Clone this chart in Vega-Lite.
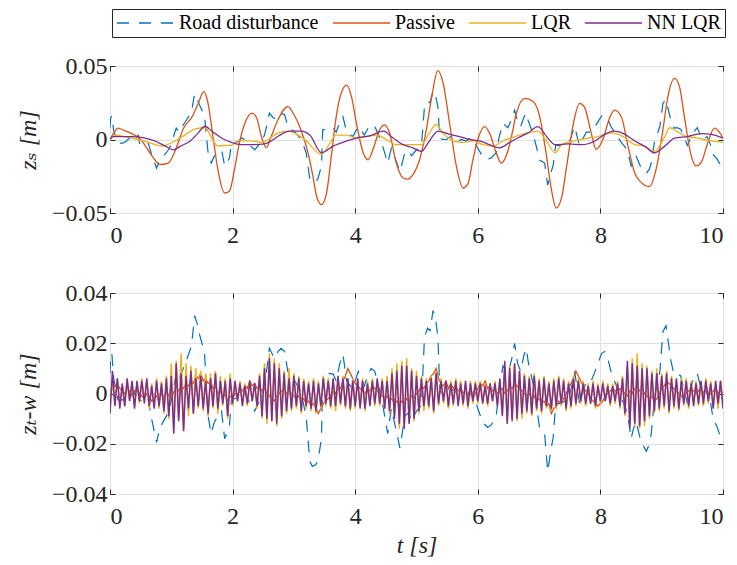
{
  "$schema": "https://vega.github.io/schema/vega-lite/v6.json",
  "background": "white",
  "padding": {"left": 15, "top": 8, "right": 5, "bottom": 5},
  "config": {
    "view": {"stroke": "#262626", "strokeWidth": 1},
    "font": "'Liberation Serif', 'DejaVu Serif', serif",
    "axis": {"domain": false, "tickSize": -5, "tickColor": "#262626", "tickWidth": 1, "grid": true, "gridColor": "#e0e0e0", "gridWidth": 1, "labelFontSize": 24, "labelColor": "#262626", "titleFontStyle": "italic", "titleFontWeight": "normal", "titleFontSize": 24, "titleColor": "#262626"}
  },
  "datasets": {
    "road": [
      {"t":0,"y":0.008},{"t":0.01,"y":0.0144},{"t":0.03,"y":0.016},{"t":0.06,"y":0.006},{"t":0.13,"y":-0.0025},{"t":0.21,"y":-0.0025},{"t":0.27,"y":-0.001},{"t":0.32,"y":0.001},{"t":0.38,"y":-0.001},{"t":0.46,"y":0.003},{"t":0.48,"y":-0.0025},{"t":0.57,"y":-0.0036},{"t":0.62,"y":-0.002},{"t":0.67,"y":-0.009},{"t":0.76,"y":-0.0195},{"t":0.81,"y":-0.014},{"t":0.86,"y":-0.0115},{"t":0.92,"y":-0.009},{"t":0.97,"y":-0.006},{"t":1.02,"y":0},{"t":1.08,"y":0.0077},{"t":1.12,"y":0.005},{"t":1.18,"y":0.009},{"t":1.25,"y":0.0134},{"t":1.33,"y":0.019},{"t":1.38,"y":0.031},{"t":1.42,"y":0.028},{"t":1.46,"y":0.0235},{"t":1.5,"y":0.02},{"t":1.54,"y":0.017},{"t":1.57,"y":0.004},{"t":1.6,"y":-0.009},{"t":1.65,"y":-0.016},{"t":1.7,"y":-0.0115},{"t":1.76,"y":-0.009},{"t":1.82,"y":-0.007},{"t":1.87,"y":-0.018},{"t":1.92,"y":-0.015},{"t":1.95,"y":-0.0125},{"t":1.98,"y":-0.0025},{"t":2.04,"y":-0.002},{"t":2.09,"y":-0.0015},{"t":2.15,"y":0.001},{"t":2.2,"y":0},{"t":2.25,"y":-0.002},{"t":2.3,"y":-0.0047},{"t":2.36,"y":-0.007},{"t":2.42,"y":-0.004},{"t":2.47,"y":-0.001},{"t":2.52,"y":0.003},{"t":2.56,"y":0.01},{"t":2.6,"y":0.018},{"t":2.66,"y":0.015},{"t":2.7,"y":0.014},{"t":2.74,"y":0.0167},{"t":2.79,"y":0.018},{"t":2.85,"y":0.0167},{"t":2.9,"y":0.0088},{"t":2.95,"y":0.007},{"t":3.0,"y":0.0057},{"t":3.06,"y":0.003},{"t":3.12,"y":0},{"t":3.2,"y":-0.009},{"t":3.26,"y":-0.027},{"t":3.3,"y":-0.029},{"t":3.35,"y":-0.0285},{"t":3.39,"y":-0.027},{"t":3.45,"y":-0.018},{"t":3.47,"y":0.0066},{"t":3.52,"y":0.007},{"t":3.56,"y":0.008},{"t":3.64,"y":0.0077},{"t":3.69,"y":0.005},{"t":3.75,"y":0.012},{"t":3.8,"y":0.0156},{"t":3.86,"y":0.005},{"t":3.92,"y":0.003},{"t":3.96,"y":0.002},{"t":4.05,"y":0.0088},{"t":4.1,"y":0.006},{"t":4.15,"y":0.003},{"t":4.2,"y":0.007},{"t":4.26,"y":0.01},{"t":4.32,"y":0.0088},{"t":4.4,"y":0.001},{"t":4.46,"y":-0.006},{"t":4.53,"y":-0.016},{"t":4.59,"y":-0.006},{"t":4.64,"y":-0.0115},{"t":4.73,"y":-0.0217},{"t":4.81,"y":-0.009},{"t":4.87,"y":-0.0077},{"t":4.92,"y":-0.011},{"t":5.0,"y":-0.007},{"t":5.08,"y":-0.0047},{"t":5.13,"y":0.0224},{"t":5.18,"y":0.026},{"t":5.22,"y":0.025},{"t":5.27,"y":0.033},{"t":5.31,"y":0.03},{"t":5.35,"y":0.022},{"t":5.38,"y":0.001},{"t":5.43,"y":0},{"t":5.49,"y":0},{"t":5.55,"y":0.002},{"t":5.63,"y":0.001},{"t":5.68,"y":-0.001},{"t":5.73,"y":0},{"t":5.81,"y":-0.001},{"t":5.87,"y":0.001},{"t":5.92,"y":0},{"t":6.0,"y":-0.006},{"t":6.08,"y":-0.0115},{"t":6.16,"y":-0.0135},{"t":6.22,"y":-0.0125},{"t":6.3,"y":-0.009},{"t":6.35,"y":0.002},{"t":6.41,"y":0.011},{"t":6.49,"y":0.008},{"t":6.55,"y":0.0134},{"t":6.6,"y":0.02},{"t":6.65,"y":0.012},{"t":6.7,"y":0.0088},{"t":6.75,"y":0.015},{"t":6.79,"y":0.018},{"t":6.82,"y":0.013},{"t":6.9,"y":0.004},{"t":6.95,"y":-0.004},{"t":7.01,"y":-0.014},{"t":7.09,"y":-0.016},{"t":7.14,"y":-0.031},{"t":7.2,"y":-0.0214},{"t":7.23,"y":-0.0176},{"t":7.27,"y":-0.004},{"t":7.35,"y":-0.004},{"t":7.42,"y":-0.003},{"t":7.49,"y":-0.002},{"t":7.54,"y":0.004},{"t":7.58,"y":0.0088},{"t":7.62,"y":0.002},{"t":7.66,"y":-0.004},{"t":7.72,"y":0.001},{"t":7.77,"y":0.005},{"t":7.85,"y":0.005},{"t":7.9,"y":0.008},{"t":7.96,"y":0.012},{"t":8.02,"y":0.016},{"t":8.07,"y":0.0167},{"t":8.12,"y":0.014},{"t":8.17,"y":0.009},{"t":8.23,"y":0.005},{"t":8.28,"y":0.002},{"t":8.34,"y":-0.002},{"t":8.4,"y":-0.005},{"t":8.45,"y":-0.009},{"t":8.5,"y":-0.018},{"t":8.54,"y":-0.014},{"t":8.58,"y":-0.011},{"t":8.66,"y":-0.019},{"t":8.75,"y":-0.023},{"t":8.8,"y":-0.02},{"t":8.83,"y":-0.016},{"t":8.88,"y":-0.002},{"t":8.93,"y":0.004},{"t":8.97,"y":0.0088},{"t":9.02,"y":0.0246},{"t":9.07,"y":0.027},{"t":9.11,"y":0.02},{"t":9.15,"y":0.013},{"t":9.2,"y":0.0077},{"t":9.25,"y":0.008},{"t":9.31,"y":0.007},{"t":9.36,"y":0.002},{"t":9.42,"y":-0.004},{"t":9.46,"y":0},{"t":9.5,"y":0.0047},{"t":9.54,"y":0.006},{"t":9.58,"y":0.008},{"t":9.62,"y":0.004},{"t":9.66,"y":0},{"t":9.7,"y":0.001},{"t":9.74,"y":0.002},{"t":9.8,"y":-0.004},{"t":9.84,"y":-0.0104},{"t":9.9,"y":-0.013},{"t":9.94,"y":-0.016},{"t":10,"y":-0.018}
    ],
    "pas": [
      {"t":0,"y":0},{"t":0.07,"y":0.005},{"t":0.13,"y":0.0077},{"t":0.24,"y":0.006},{"t":0.4,"y":0.003},{"t":0.5,"y":0},{"t":0.57,"y":-0.004},{"t":0.7,"y":-0.012},{"t":0.81,"y":-0.017},{"t":0.95,"y":-0.016},{"t":1.06,"y":-0.008},{"t":1.2,"y":0.0077},{"t":1.34,"y":0.0156},{"t":1.44,"y":0.0246},{"t":1.53,"y":0.0325},{"t":1.6,"y":0.0246},{"t":1.68,"y":0.002},{"t":1.76,"y":-0.0205},{"t":1.87,"y":-0.0364},{"t":1.95,"y":-0.035},{"t":2.03,"y":-0.0205},{"t":2.11,"y":-0.0025},{"t":2.2,"y":0.011},{"t":2.31,"y":0.018},{"t":2.39,"y":0.015},{"t":2.47,"y":0.002},{"t":2.55,"y":-0.0055},{"t":2.63,"y":0.002},{"t":2.74,"y":0.0134},{"t":2.9,"y":0.0224},{"t":3.0,"y":0.017},{"t":3.12,"y":0.006},{"t":3.23,"y":-0.009},{"t":3.31,"y":-0.025},{"t":3.37,"y":-0.0386},{"t":3.45,"y":-0.0443},{"t":3.53,"y":-0.037},{"t":3.61,"y":-0.0115},{"t":3.69,"y":0.0156},{"t":3.77,"y":0.0314},{"t":3.86,"y":0.037},{"t":3.94,"y":0.029},{"t":4.02,"y":0.011},{"t":4.13,"y":-0.009},{"t":4.21,"y":-0.0138},{"t":4.29,"y":-0.0067},{"t":4.4,"y":0.0067},{"t":4.48,"y":0.01},{"t":4.56,"y":0.0045},{"t":4.67,"y":-0.016},{"t":4.78,"y":-0.0262},{"t":4.86,"y":-0.027},{"t":4.94,"y":-0.024},{"t":5.05,"y":-0.0138},{"t":5.16,"y":0.0067},{"t":5.24,"y":0.027},{"t":5.35,"y":0.0468},{"t":5.43,"y":0.039},{"t":5.54,"y":0.011},{"t":5.65,"y":-0.018},{"t":5.76,"y":-0.033},{"t":5.84,"y":-0.03},{"t":5.92,"y":-0.0138},{"t":6.0,"y":0},{"t":6.11,"y":0.0088},{"t":6.19,"y":0.0045},{"t":6.3,"y":-0.009},{"t":6.38,"y":-0.016},{"t":6.49,"y":-0.008},{"t":6.57,"y":0.006},{"t":6.63,"y":0.018},{"t":6.77,"y":0.028},{"t":6.9,"y":0.026},{"t":7.01,"y":0.0156},{"t":7.12,"y":-0.011},{"t":7.2,"y":-0.034},{"t":7.28,"y":-0.0466},{"t":7.37,"y":-0.039},{"t":7.45,"y":-0.018},{"t":7.56,"y":0.011},{"t":7.66,"y":0.0246},{"t":7.74,"y":0.022},{"t":7.85,"y":0.0045},{"t":7.93,"y":-0.0067},{"t":8.04,"y":0},{"t":8.15,"y":0.0147},{"t":8.23,"y":0.02},{"t":8.34,"y":0.0156},{"t":8.45,"y":-0.0045},{"t":8.56,"y":-0.0228},{"t":8.66,"y":-0.029},{"t":8.8,"y":-0.032},{"t":8.91,"y":-0.02},{"t":9.02,"y":0.0067},{"t":9.1,"y":0.029},{"t":9.21,"y":0.0416},{"t":9.29,"y":0.036},{"t":9.37,"y":0.0156},{"t":9.48,"y":-0.011},{"t":9.56,"y":-0.018},{"t":9.64,"y":-0.016},{"t":9.75,"y":-0.0025},{"t":9.86,"y":0.0077},{"t":9.94,"y":0.005},{"t":10,"y":0.001}
    ],
    "lqr": [
      {"t":0,"y":0},{"t":0.08,"y":0.003},{"t":0.24,"y":0.002},{"t":0.46,"y":0},{"t":0.67,"y":-0.0025},{"t":0.84,"y":-0.0045},{"t":0.9,"y":-0.004},{"t":1.06,"y":-0.001},{"t":1.22,"y":0.003},{"t":1.38,"y":0.007},{"t":1.55,"y":0.008},{"t":1.66,"y":0.001},{"t":1.76,"y":-0.0045},{"t":1.87,"y":-0.004},{"t":1.98,"y":-0.004},{"t":2.09,"y":-0.001},{"t":2.31,"y":-0.001},{"t":2.47,"y":-0.002},{"t":2.58,"y":0},{"t":2.74,"y":0.0045},{"t":2.9,"y":0.0057},{"t":3.07,"y":0.003},{"t":3.23,"y":-0.002},{"t":3.3,"y":-0.0055},{"t":3.45,"y":-0.01},{"t":3.58,"y":-0.003},{"t":3.69,"y":0.003},{"t":3.86,"y":0.003},{"t":4.02,"y":0.001},{"t":4.18,"y":0.002},{"t":4.35,"y":0.003},{"t":4.51,"y":0},{"t":4.67,"y":-0.0035},{"t":4.89,"y":-0.0035},{"t":5.08,"y":-0.0035},{"t":5.21,"y":0.0045},{"t":5.32,"y":0.0102},{"t":5.43,"y":0.0045},{"t":5.6,"y":-0.001},{"t":5.76,"y":-0.002},{"t":5.92,"y":-0.001},{"t":6.08,"y":-0.0035},{"t":6.25,"y":-0.0045},{"t":6.41,"y":-0.001},{"t":6.57,"y":0.0015},{"t":6.82,"y":0.0045},{"t":6.98,"y":0.0057},{"t":7.12,"y":-0.001},{"t":7.26,"y":-0.009},{"t":7.37,"y":-0.0035},{"t":7.58,"y":-0.001},{"t":7.8,"y":0.001},{"t":7.96,"y":0.002},{"t":8.18,"y":0.0045},{"t":8.37,"y":0.002},{"t":8.56,"y":-0.0035},{"t":8.72,"y":-0.0045},{"t":8.88,"y":-0.008},{"t":9.05,"y":0.002},{"t":9.13,"y":0.008},{"t":9.24,"y":0.0057},{"t":9.4,"y":0.002},{"t":9.59,"y":0.001},{"t":9.81,"y":-0.001},{"t":10,"y":-0.002}
    ],
    "nn": [
      {"t":0,"y":0},{"t":0.05,"y":0.002},{"t":0.19,"y":0.002},{"t":0.35,"y":0.002},{"t":0.57,"y":0.001},{"t":0.73,"y":-0.001},{"t":0.9,"y":-0.0045},{"t":1.04,"y":-0.007},{"t":1.15,"y":-0.0045},{"t":1.31,"y":-0.001},{"t":1.44,"y":0.0045},{"t":1.55,"y":0.009},{"t":1.66,"y":0.0057},{"t":1.82,"y":0.001},{"t":1.98,"y":-0.002},{"t":2.14,"y":-0.0035},{"t":2.36,"y":-0.0035},{"t":2.52,"y":-0.003},{"t":2.63,"y":-0.001},{"t":2.77,"y":0.003},{"t":2.93,"y":0.0057},{"t":3.12,"y":0.0057},{"t":3.26,"y":0.003},{"t":3.45,"y":-0.009},{"t":3.64,"y":-0.0045},{"t":3.86,"y":-0.001},{"t":4.02,"y":0.001},{"t":4.24,"y":0.0025},{"t":4.46,"y":0.0057},{"t":4.62,"y":0.001},{"t":4.78,"y":-0.0035},{"t":4.94,"y":-0.0057},{"t":5.08,"y":-0.008},{"t":5.21,"y":-0.001},{"t":5.35,"y":0.0057},{"t":5.54,"y":0.0035},{"t":5.7,"y":0.002},{"t":5.87,"y":0},{"t":6.03,"y":-0.001},{"t":6.19,"y":-0.0035},{"t":6.35,"y":-0.0057},{"t":6.52,"y":-0.002},{"t":6.65,"y":0.001},{"t":6.82,"y":0.0045},{"t":6.98,"y":0.0088},{"t":7.14,"y":0.001},{"t":7.26,"y":-0.0035},{"t":7.48,"y":-0.003},{"t":7.7,"y":-0.0035},{"t":7.91,"y":-0.001},{"t":8.07,"y":0.0035},{"t":8.23,"y":0.0057},{"t":8.4,"y":0.0035},{"t":8.56,"y":-0.001},{"t":8.72,"y":-0.0045},{"t":8.88,"y":-0.009},{"t":9.05,"y":-0.0045},{"t":9.21,"y":0.001},{"t":9.42,"y":0.002},{"t":9.64,"y":0.004},{"t":9.81,"y":0.0035},{"t":10,"y":0.001}
    ],
    "bot": [
      {"t":0,"p":0,"l":-0.003,"n":-0.008},{"t":0.04,"p":0.002,"l":0.005,"n":0.009},{"t":0.08,"p":0.003,"l":-0.004,"n":-0.005},{"t":0.12,"p":0.004,"l":0.006,"n":0.006},{"t":0.16,"p":0.002,"l":-0.004,"n":-0.006},{"t":0.2,"p":0.001,"l":0.003,"n":0.004},{"t":0.24,"p":0,"l":-0.005,"n":-0.005},{"t":0.28,"p":0.002,"l":0.005,"n":0.006},{"t":0.32,"p":0.001,"l":-0.003,"n":-0.003},{"t":0.36,"p":-0.001,"l":0.004,"n":0.005},
      {"t":0.4,"p":0.001,"l":-0.005,"n":-0.006},{"t":0.44,"p":0.002,"l":0.004,"n":0.005},{"t":0.48,"p":0,"l":-0.004,"n":-0.003},{"t":0.52,"p":-0.001,"l":0.006,"n":0.005},{"t":0.56,"p":-0.002,"l":-0.003,"n":-0.004},{"t":0.6,"p":0,"l":0.005,"n":0.006},{"t":0.64,"p":-0.001,"l":-0.006,"n":-0.005},{"t":0.68,"p":-0.003,"l":0.004,"n":0.003},{"t":0.72,"p":-0.002,"l":-0.005,"n":-0.006},{"t":0.76,"p":-0.001,"l":0.006,"n":0.005},
      {"t":0.8,"p":-0.003,"l":-0.006,"n":-0.005},{"t":0.84,"p":0,"l":0.005,"n":0.004},{"t":0.88,"p":-0.002,"l":-0.008,"n":-0.007},{"t":0.92,"p":0.001,"l":0.007,"n":0.006},{"t":0.96,"p":-0.001,"l":-0.01,"n":-0.009},{"t":1.0,"p":0.002,"l":0.012,"n":0.007},{"t":1.04,"p":0,"l":-0.014,"n":-0.016},{"t":1.08,"p":0.003,"l":0.013,"n":0.012},{"t":1.12,"p":0.001,"l":-0.01,"n":-0.011},{"t":1.16,"p":0.003,"l":0.016,"n":0.008},
      {"t":1.2,"p":0.002,"l":-0.015,"n":-0.015},{"t":1.24,"p":0.004,"l":0.012,"n":0.007},{"t":1.28,"p":0.003,"l":-0.009,"n":-0.006},{"t":1.32,"p":0.005,"l":0.011,"n":0.009},{"t":1.36,"p":0.004,"l":-0.008,"n":-0.008},{"t":1.4,"p":0.007,"l":0.01,"n":0.006},{"t":1.44,"p":0.006,"l":-0.006,"n":-0.005},{"t":1.48,"p":0.008,"l":0.009,"n":0.007},{"t":1.52,"p":0.005,"l":-0.007,"n":-0.006},{"t":1.56,"p":0.006,"l":0.008,"n":0.005},
      {"t":1.6,"p":0.004,"l":-0.009,"n":-0.008},{"t":1.64,"p":0.005,"l":0.008,"n":0.006},{"t":1.68,"p":0.002,"l":-0.006,"n":-0.005},{"t":1.72,"p":0.003,"l":0.009,"n":0.008},{"t":1.76,"p":0,"l":-0.008,"n":-0.006},{"t":1.8,"p":0.001,"l":0.007,"n":0.005},{"t":1.84,"p":-0.002,"l":-0.005,"n":-0.004},{"t":1.88,"p":0,"l":0.006,"n":0.005},{"t":1.92,"p":-0.003,"l":-0.01,"n":-0.009},{"t":1.96,"p":-0.001,"l":0.008,"n":0.006},
      {"t":2.0,"p":-0.002,"l":-0.005,"n":-0.004},{"t":2.04,"p":0,"l":0.004,"n":0.005},{"t":2.08,"p":-0.001,"l":-0.003,"n":-0.003},{"t":2.12,"p":0.002,"l":0.005,"n":0.004},{"t":2.16,"p":0.001,"l":-0.004,"n":-0.005},{"t":2.2,"p":0.003,"l":0.004,"n":0.003},{"t":2.24,"p":0.002,"l":-0.005,"n":-0.004},{"t":2.28,"p":0.005,"l":0.005,"n":0.005},{"t":2.32,"p":0.003,"l":-0.003,"n":-0.003},{"t":2.36,"p":0.004,"l":0.004,"n":0.004},
      {"t":2.4,"p":0.002,"l":-0.006,"n":-0.005},{"t":2.44,"p":0.003,"l":0.008,"n":0.007},{"t":2.48,"p":0.001,"l":-0.01,"n":-0.009},{"t":2.52,"p":0.002,"l":0.012,"n":0.01},{"t":2.56,"p":0,"l":-0.012,"n":-0.01},{"t":2.6,"p":-0.001,"l":0.016,"n":0.014},{"t":2.64,"p":-0.002,"l":-0.011,"n":-0.011},{"t":2.68,"p":-0.003,"l":0.014,"n":0.012},{"t":2.72,"p":-0.001,"l":-0.013,"n":-0.012},{"t":2.76,"p":0,"l":0.012,"n":0.01},
      {"t":2.8,"p":0.001,"l":-0.01,"n":-0.009},{"t":2.84,"p":0.002,"l":0.009,"n":0.008},{"t":2.88,"p":0,"l":-0.008,"n":-0.007},{"t":2.92,"p":0.001,"l":0.01,"n":0.006},{"t":2.96,"p":0,"l":-0.007,"n":-0.006},{"t":3.0,"p":-0.001,"l":0.008,"n":0.007},{"t":3.04,"p":-0.002,"l":-0.006,"n":-0.005},{"t":3.08,"p":-0.001,"l":0.007,"n":0.006},{"t":3.12,"p":-0.003,"l":-0.008,"n":-0.007},{"t":3.16,"p":-0.002,"l":0.006,"n":0.005},
      {"t":3.2,"p":-0.004,"l":-0.006,"n":-0.005},{"t":3.24,"p":-0.003,"l":0.005,"n":0.004},{"t":3.28,"p":-0.005,"l":-0.007,"n":-0.006},{"t":3.32,"p":-0.004,"l":0.006,"n":0.005},{"t":3.36,"p":-0.006,"l":-0.008,"n":-0.007},{"t":3.4,"p":-0.008,"l":0.005,"n":0.004},{"t":3.44,"p":-0.006,"l":-0.006,"n":-0.005},{"t":3.48,"p":-0.004,"l":0.007,"n":0.006},{"t":3.52,"p":-0.003,"l":-0.005,"n":-0.004},{"t":3.56,"p":-0.002,"l":0.006,"n":0.005},
      {"t":3.6,"p":-0.001,"l":-0.006,"n":-0.005},{"t":3.64,"p":0.001,"l":0.005,"n":0.006},{"t":3.68,"p":0,"l":-0.007,"n":-0.005},{"t":3.72,"p":0.003,"l":0.006,"n":0.007},{"t":3.76,"p":0.002,"l":-0.005,"n":-0.004},{"t":3.8,"p":0.005,"l":0.007,"n":0.006},{"t":3.84,"p":0.007,"l":-0.006,"n":-0.005},{"t":3.88,"p":0.01,"l":0.005,"n":0.006},{"t":3.92,"p":0.008,"l":-0.007,"n":-0.006},{"t":3.96,"p":0.006,"l":0.006,"n":0.005},
      {"t":4.0,"p":0.004,"l":-0.006,"n":-0.005},{"t":4.04,"p":0.003,"l":0.005,"n":0.006},{"t":4.08,"p":0.002,"l":-0.005,"n":-0.006},{"t":4.12,"p":0.001,"l":0.006,"n":0.005},{"t":4.16,"p":0,"l":-0.007,"n":-0.006},{"t":4.2,"p":0.002,"l":0.005,"n":0.004},{"t":4.24,"p":0.001,"l":-0.004,"n":-0.005},{"t":4.28,"p":0.003,"l":0.006,"n":0.005},{"t":4.32,"p":0.002,"l":-0.005,"n":-0.004},{"t":4.36,"p":0.001,"l":0.005,"n":0.006},
      {"t":4.4,"p":0,"l":-0.005,"n":-0.004},{"t":4.44,"p":-0.001,"l":0.006,"n":0.005},{"t":4.48,"p":-0.002,"l":-0.006,"n":-0.006},{"t":4.52,"p":-0.001,"l":0.007,"n":0.005},{"t":4.56,"p":-0.003,"l":-0.008,"n":-0.007},{"t":4.6,"p":-0.002,"l":0.01,"n":0.008},{"t":4.64,"p":-0.004,"l":-0.009,"n":-0.01},{"t":4.68,"p":-0.003,"l":0.012,"n":0.009},{"t":4.72,"p":-0.005,"l":-0.014,"n":-0.012},{"t":4.76,"p":-0.003,"l":0.013,"n":0.011},
      {"t":4.8,"p":-0.004,"l":-0.013,"n":-0.014},{"t":4.84,"p":-0.002,"l":0.014,"n":0.011},{"t":4.88,"p":-0.003,"l":-0.012,"n":-0.012},{"t":4.92,"p":-0.001,"l":0.01,"n":0.009},{"t":4.96,"p":-0.002,"l":-0.011,"n":-0.01},{"t":5.0,"p":0,"l":0.009,"n":0.007},{"t":5.04,"p":0.001,"l":-0.008,"n":-0.007},{"t":5.08,"p":0.003,"l":0.007,"n":0.006},{"t":5.12,"p":0.002,"l":-0.007,"n":-0.005},{"t":5.16,"p":0.004,"l":0.006,"n":0.005},
      {"t":5.2,"p":0.005,"l":-0.006,"n":-0.005},{"t":5.24,"p":0.007,"l":0.007,"n":0.006},{"t":5.28,"p":0.008,"l":-0.008,"n":-0.007},{"t":5.32,"p":0.01,"l":0.009,"n":0.008},{"t":5.36,"p":0.006,"l":-0.005,"n":-0.004},{"t":5.4,"p":0.004,"l":0.006,"n":0.005},{"t":5.44,"p":0.003,"l":-0.004,"n":-0.003},{"t":5.48,"p":0.005,"l":0.005,"n":0.005},{"t":5.52,"p":0.002,"l":-0.006,"n":-0.005},{"t":5.56,"p":0.004,"l":0.005,"n":0.004},
      {"t":5.6,"p":0.002,"l":-0.005,"n":-0.004},{"t":5.64,"p":0.003,"l":0.006,"n":0.005},{"t":5.68,"p":0.001,"l":-0.004,"n":-0.005},{"t":5.72,"p":0.002,"l":0.005,"n":0.004},{"t":5.76,"p":0,"l":-0.005,"n":-0.004},{"t":5.8,"p":0.001,"l":0.004,"n":0.005},{"t":5.84,"p":-0.001,"l":-0.006,"n":-0.005},{"t":5.88,"p":0,"l":0.005,"n":0.004},{"t":5.92,"p":-0.002,"l":-0.004,"n":-0.003},{"t":5.96,"p":0,"l":0.005,"n":0.004},
      {"t":6.0,"p":0.002,"l":-0.004,"n":-0.003},{"t":6.04,"p":0.004,"l":0.005,"n":0.004},{"t":6.08,"p":0.003,"l":-0.003,"n":-0.004},{"t":6.12,"p":0.005,"l":0.004,"n":0.003},{"t":6.16,"p":0.002,"l":-0.005,"n":-0.004},{"t":6.2,"p":0.003,"l":0.004,"n":0.004},{"t":6.24,"p":0.001,"l":-0.003,"n":-0.003},{"t":6.28,"p":0.002,"l":0.005,"n":0.004},{"t":6.32,"p":0,"l":-0.004,"n":-0.005},{"t":6.36,"p":0.001,"l":0.005,"n":0.006},
      {"t":6.4,"p":0.002,"l":-0.008,"n":-0.009},{"t":6.44,"p":0,"l":0.01,"n":0.013},{"t":6.48,"p":0.001,"l":-0.012,"n":-0.012},{"t":6.52,"p":0.003,"l":0.011,"n":0.01},{"t":6.56,"p":0.002,"l":-0.01,"n":-0.011},{"t":6.6,"p":0.004,"l":0.012,"n":0.012},{"t":6.64,"p":0.003,"l":-0.011,"n":-0.01},{"t":6.68,"p":0.002,"l":0.009,"n":0.009},{"t":6.72,"p":0.001,"l":-0.01,"n":-0.008},{"t":6.76,"p":0,"l":0.008,"n":0.007},
      {"t":6.8,"p":-0.001,"l":-0.008,"n":-0.007},{"t":6.84,"p":0,"l":0.007,"n":0.006},{"t":6.88,"p":-0.002,"l":-0.009,"n":-0.008},{"t":6.92,"p":-0.001,"l":0.008,"n":0.007},{"t":6.96,"p":-0.003,"l":-0.007,"n":-0.006},{"t":7.0,"p":-0.002,"l":0.006,"n":0.005},{"t":7.04,"p":-0.004,"l":-0.008,"n":-0.007},{"t":7.08,"p":-0.003,"l":0.007,"n":0.006},{"t":7.12,"p":-0.005,"l":-0.006,"n":-0.005},{"t":7.16,"p":-0.004,"l":0.005,"n":0.004},
      {"t":7.2,"p":-0.008,"l":-0.007,"n":-0.006},{"t":7.24,"p":-0.006,"l":0.006,"n":0.005},{"t":7.28,"p":-0.005,"l":-0.006,"n":-0.005},{"t":7.32,"p":-0.003,"l":0.007,"n":0.006},{"t":7.36,"p":-0.004,"l":-0.005,"n":-0.004},{"t":7.4,"p":-0.002,"l":0.006,"n":0.005},{"t":7.44,"p":0,"l":-0.007,"n":-0.006},{"t":7.48,"p":0.002,"l":0.005,"n":0.004},{"t":7.52,"p":0.004,"l":-0.006,"n":-0.005},{"t":7.56,"p":0.006,"l":0.007,"n":0.006},
      {"t":7.6,"p":0.009,"l":-0.005,"n":-0.004},{"t":7.64,"p":0.007,"l":0.006,"n":0.005},{"t":7.68,"p":0.005,"l":-0.004,"n":-0.003},{"t":7.72,"p":0.003,"l":0.005,"n":0.004},{"t":7.76,"p":0.001,"l":-0.005,"n":-0.004},{"t":7.8,"p":0,"l":0.004,"n":0.003},{"t":7.84,"p":-0.002,"l":-0.004,"n":-0.004},{"t":7.88,"p":-0.003,"l":0.005,"n":0.004},{"t":7.92,"p":-0.004,"l":-0.006,"n":-0.005},{"t":7.96,"p":-0.005,"l":0.004,"n":0.003},
      {"t":8.0,"p":-0.004,"l":-0.004,"n":-0.003},{"t":8.04,"p":-0.003,"l":0.005,"n":0.004},{"t":8.08,"p":-0.001,"l":-0.003,"n":-0.003},{"t":8.12,"p":0,"l":0.004,"n":0.003},{"t":8.16,"p":0.001,"l":-0.005,"n":-0.004},{"t":8.2,"p":0.002,"l":0.004,"n":0.003},{"t":8.24,"p":0.001,"l":-0.004,"n":-0.003},{"t":8.28,"p":0,"l":0.005,"n":0.004},{"t":8.32,"p":0.002,"l":-0.006,"n":-0.005},{"t":8.36,"p":0.001,"l":0.007,"n":0.006},
      {"t":8.4,"p":0,"l":-0.009,"n":-0.008},{"t":8.44,"p":-0.001,"l":0.01,"n":0.013},{"t":8.48,"p":0.001,"l":-0.012,"n":-0.014},{"t":8.52,"p":0,"l":0.014,"n":0.012},{"t":8.56,"p":0.002,"l":-0.013,"n":-0.012},{"t":8.6,"p":0.003,"l":0.016,"n":0.011},{"t":8.64,"p":0.001,"l":-0.014,"n":-0.013},{"t":8.68,"p":0.002,"l":0.012,"n":0.01},{"t":8.72,"p":0,"l":-0.013,"n":-0.011},{"t":8.76,"p":-0.001,"l":0.011,"n":0.01},
      {"t":8.8,"p":-0.002,"l":-0.01,"n":-0.009},{"t":8.84,"p":-0.001,"l":0.009,"n":0.008},{"t":8.88,"p":-0.003,"l":-0.008,"n":-0.007},{"t":8.92,"p":-0.002,"l":0.01,"n":0.008},{"t":8.96,"p":0,"l":-0.007,"n":-0.006},{"t":9.0,"p":0.002,"l":0.008,"n":0.007},{"t":9.04,"p":0.003,"l":-0.006,"n":-0.005},{"t":9.08,"p":0.005,"l":0.009,"n":0.008},{"t":9.12,"p":0.004,"l":-0.008,"n":-0.007},{"t":9.16,"p":0.003,"l":0.007,"n":0.006},
      {"t":9.2,"p":0.002,"l":-0.006,"n":-0.005},{"t":9.24,"p":0.001,"l":0.005,"n":0.006},{"t":9.28,"p":0,"l":-0.007,"n":-0.006},{"t":9.32,"p":-0.001,"l":0.006,"n":0.005},{"t":9.36,"p":-0.002,"l":-0.005,"n":-0.004},{"t":9.4,"p":0,"l":0.006,"n":0.005},{"t":9.44,"p":0.001,"l":-0.006,"n":-0.005},{"t":9.48,"p":0.002,"l":0.005,"n":0.004},{"t":9.52,"p":0.001,"l":-0.004,"n":-0.005},{"t":9.56,"p":0,"l":0.005,"n":0.004},
      {"t":9.6,"p":0.001,"l":-0.005,"n":-0.004},{"t":9.64,"p":0.002,"l":0.004,"n":0.005},{"t":9.68,"p":0,"l":-0.005,"n":-0.004},{"t":9.72,"p":0.001,"l":0.006,"n":0.005},{"t":9.76,"p":-0.001,"l":-0.004,"n":-0.003},{"t":9.8,"p":0,"l":0.005,"n":0.004},{"t":9.84,"p":0.001,"l":-0.005,"n":-0.006},{"t":9.88,"p":0.002,"l":0.004,"n":0.005},{"t":9.92,"p":0,"l":-0.006,"n":-0.004},{"t":9.96,"p":0.001,"l":0.005,"n":0.005},
      {"t":10,"p":0,"l":-0.004,"n":-0.006}
    ]
  },
  "vconcat": [
    {
      "width": 613,
      "height": 147,
      "layer": [
        {
          "data": {"name": "road"},
          "mark": {"type": "line", "strokeWidth": 1.2, "strokeDash": [12, 9], "clip": true},
          "encoding": {
            "x": {"field": "t", "type": "quantitative", "scale": {"domain": [0, 10], "nice": false}, "axis": {"values": [0, 2, 4, 6, 8, 10], "labelPadding": 15, "labelFont": "'Liberation Serif', 'DejaVu Serif', serif", "labelFontSize": 24, "labelColor": "#262626", "title": null}},
            "y": {"field": "y", "type": "quantitative", "scale": {"domain": [-0.05, 0.05], "nice": false}, "axis": {"values": [-0.05, 0, 0.05], "labelExpr": "replace('' + datum.value, '-', '−')", "labelPadding": 8, "labelFont": "'Liberation Serif', 'DejaVu Serif', serif", "labelFontSize": 24, "labelColor": "#262626", "title": "zₛ [m]", "titleFont": "'Liberation Serif', 'DejaVu Serif', serif", "titleFontSize": 24, "titleX": -82, "titleY": 73.5, "titleAlign": "center", "titleBaseline": "middle", "titleAngle": 270}},
            "color": {
              "datum": "Road disturbance", "type": "nominal",
              "scale": {"domain": ["Road disturbance", "Passive", "LQR", "NN LQR"], "range": ["#0072BD", "#D95319", "#EDB120", "#7E2F8E"]},
              "legend": {
                "orient": "none", "legendX": 2, "legendY": -57, "direction": "horizontal", "title": null,
                "symbolType": "stroke", "symbolSize": 3249, "symbolStrokeWidth": 1.3, "clipHeight": 20,
                "labelFont": "'Liberation Serif', 'DejaVu Serif', serif", "labelFontSize": 20, "labelColor": "black", "labelLimit": 400, "labelOffset": 4,
                "columnPadding": 13, "padding": 4, "strokeColor": "#262626", "fillColor": "white",
                "encode": {"symbols": {"update": {"strokeDash": {"signal": "datum.value === 'Road disturbance' ? [12, 10] : null"}}}}
              }
            }
          }
        },
        {
          "data": {"name": "pas"},
          "mark": {"type": "line", "strokeWidth": 1.3, "interpolate": "monotone", "clip": true},
          "encoding": {
            "x": {"field": "t", "type": "quantitative", "axis": {"orient": "top", "values": [0, 2, 4, 6, 8, 10], "labels": false, "grid": false, "title": null}},
            "y": {"field": "y", "type": "quantitative", "axis": {"orient": "right", "values": [-0.05, 0, 0.05], "labels": false, "grid": false, "title": null}},
            "color": {"datum": "Passive", "type": "nominal"}
          }
        },
        {
          "data": {"name": "lqr"},
          "mark": {"type": "line", "strokeWidth": 1.3, "interpolate": "monotone", "clip": true},
          "encoding": {
            "x": {"field": "t", "type": "quantitative", "axis": null},
            "y": {"field": "y", "type": "quantitative", "axis": null},
            "color": {"datum": "LQR", "type": "nominal"}
          }
        },
        {
          "data": {"name": "nn"},
          "mark": {"type": "line", "strokeWidth": 1.3, "interpolate": "monotone", "clip": true},
          "encoding": {
            "x": {"field": "t", "type": "quantitative", "axis": null},
            "y": {"field": "y", "type": "quantitative", "axis": null},
            "color": {"datum": "NN LQR", "type": "nominal"}
          }
        }
      ],
      "resolve": {"axis": {"x": "independent", "y": "independent"}}
    },
    {
      "width": 613,
      "height": 201,
      "layer": [
        {
          "data": {"name": "road"},
          "mark": {"type": "line", "strokeWidth": 1.2, "strokeDash": [12, 9], "clip": true},
          "encoding": {
            "x": {"field": "t", "type": "quantitative", "scale": {"domain": [0, 10], "nice": false}, "axis": {"values": [0, 2, 4, 6, 8, 10], "labelPadding": 15, "labelFont": "'Liberation Serif', 'DejaVu Serif', serif", "labelFontSize": 24, "labelColor": "#262626", "title": "t [s]", "titleFont": "'Liberation Serif', 'DejaVu Serif', serif", "titleFontSize": 24, "titleY": 51, "titleBaseline": "middle"}},
            "y": {"field": "y", "type": "quantitative", "scale": {"domain": [-0.04, 0.04], "nice": false}, "axis": {"values": [-0.04, -0.02, 0, 0.02, 0.04], "labelExpr": "replace('' + datum.value, '-', '−')", "labelPadding": 8, "labelFont": "'Liberation Serif', 'DejaVu Serif', serif", "labelFontSize": 24, "labelColor": "#262626", "title": "zₜ-w [m]", "titleFont": "'Liberation Serif', 'DejaVu Serif', serif", "titleFontSize": 24, "titleX": -82, "titleY": 100.5, "titleAlign": "center", "titleBaseline": "middle", "titleAngle": 270}},
            "color": {"datum": "Road disturbance", "type": "nominal"}
          }
        },
        {
          "data": {"name": "bot"},
          "mark": {"type": "line", "strokeWidth": 1.3, "clip": true},
          "encoding": {
            "x": {"field": "t", "type": "quantitative", "axis": {"orient": "top", "values": [0, 2, 4, 6, 8, 10], "labels": false, "grid": false, "title": null}},
            "y": {"field": "p", "type": "quantitative", "axis": {"orient": "right", "values": [-0.04, -0.02, 0, 0.02, 0.04], "labels": false, "grid": false, "title": null}},
            "color": {"datum": "Passive", "type": "nominal"}
          }
        },
        {
          "data": {"name": "bot"},
          "mark": {"type": "line", "strokeWidth": 1.5, "clip": true},
          "encoding": {
            "x": {"field": "t", "type": "quantitative", "axis": null},
            "y": {"field": "l", "type": "quantitative", "axis": null},
            "color": {"datum": "LQR", "type": "nominal"}
          }
        },
        {
          "data": {"name": "bot"},
          "mark": {"type": "line", "strokeWidth": 1.5, "clip": true},
          "encoding": {
            "x": {"field": "t", "type": "quantitative", "axis": null},
            "y": {"field": "n", "type": "quantitative", "axis": null},
            "color": {"datum": "NN LQR", "type": "nominal"}
          }
        }
      ],
      "resolve": {"axis": {"x": "independent", "y": "independent"}}
    }
  ],
  "spacing": 32
}
